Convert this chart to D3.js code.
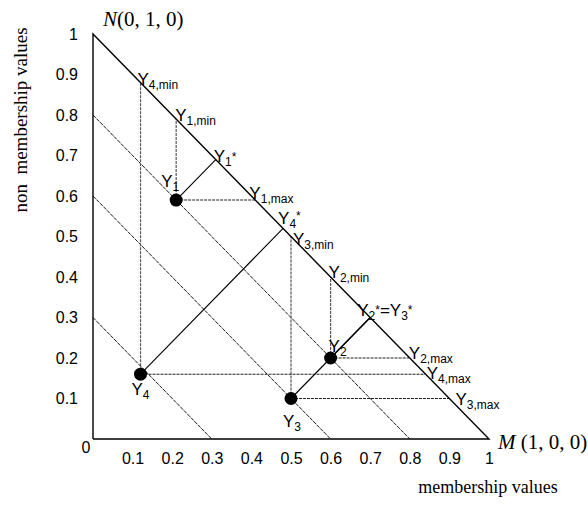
<!DOCTYPE html>
<html>
<head>
    <meta charset="utf-8">
    <title>Intuitionistic fuzzy triangle</title>
    <style>
        body { margin: 0; background: #fff; }
        svg { display: block; }
        .tick text { font-family: "Liberation Sans", Arial, sans-serif; font-size: 16px; fill: #000; }
        .serif { font-family: "Liberation Serif", "Times New Roman", serif; fill: #000; }
        .lbl { font-family: "Liberation Sans", Arial, sans-serif; fill: #000; }
    </style>
</head>
<body>
<div id="chart"></div>
<script src="https://cdn.jsdelivr.net/npm/d3@7/dist/d3.min.js"></script>
<script>
(function (d3) {
    'use strict';

    // alternatives Y1..Y4 as (membership, non membership)
    var names = ['1', '2', '3', '4'];
    var mu = [0.21, 0.6, 0.5, 0.12];
    var nu = [0.59, 0.2, 0.1, 0.16];

    // lines of constant mu + nu
    var sums = [0.3, 0.6, 0.8];

    var xTicks = [0.1, 0.2, 0.3, 0.4, 0.5, 0.6, 0.7, 0.8, 0.9, 1];
    var yTicks = [0.1, 0.2, 0.3, 0.4, 0.5, 0.6, 0.7, 0.8, 0.9, 1];
    var xTickLabels = ['0.1', '0.2', '0.3', '0.4', '0.5', '0.6', '0.7', '0.8', '0.9', '1'];
    var yTickLabels = ['0.1', '0.2', '0.3', '0.4', '0.5', '0.6', '0.7', '0.8', '0.9', '1'];

    var width = 588;
    var height = 505;

    var x = d3.scaleLinear().domain([0, 1]).range([93, 489]);
    var y = d3.scaleLinear().domain([0, 1]).range([439, 34]);

    var svg = d3.select('#chart')
        .append('svg')
        .attr('width', width)
        .attr('height', height);

    var pts = names.map(function (n, i) {
        var m = mu[i], v = nu[i];
        return {
            name: n, mu: m, nu: v,
            min: [m, 1 - m],                       // straight up to the edge
            max: [1 - v, v],                       // straight right to the edge
            star: [(1 + m - v) / 2, (1 - m + v) / 2] // 45 degrees to the edge
        };
    });

    // constant sum lines
    svg.selectAll('.sum')
        .data(sums)
        .enter()
        .append('line')
        .attr('class', 'sum')
        .attr('x1', x(0)).attr('y1', function (d) { return y(d); })
        .attr('x2', function (d) { return x(d); }).attr('y2', y(0))
        .attr('stroke', '#000')
        .attr('stroke-width', 0.9)
        .attr('stroke-dasharray', '4,1');

    // vertical lines to the min points
    svg.selectAll('.vmin')
        .data(pts)
        .enter()
        .append('line')
        .attr('x1', function (d) { return x(d.mu); })
        .attr('y1', function (d) { return y(d.nu); })
        .attr('x2', function (d) { return x(d.min[0]); })
        .attr('y2', function (d) { return y(d.min[1]); })
        .attr('stroke', '#555')
        .attr('stroke-width', 1.2)
        .attr('stroke-dasharray', '3,1');

    // horizontal lines to the max points
    svg.selectAll('.hmax')
        .data(pts)
        .enter()
        .append('line')
        .attr('x1', function (d) { return x(d.mu); })
        .attr('y1', function (d) { return y(d.nu); })
        .attr('x2', function (d) { return x(d.max[0]); })
        .attr('y2', function (d) { return y(d.max[1]); })
        .attr('stroke', '#222')
        .attr('stroke-width', 1.1)
        .attr('stroke-dasharray', '3,1');

    // lines to the star points
    svg.selectAll('.star')
        .data(pts)
        .enter()
        .append('line')
        .attr('x1', function (d) { return x(d.mu); })
        .attr('y1', function (d) { return y(d.nu); })
        .attr('x2', function (d) { return x(d.star[0]); })
        .attr('y2', function (d) { return y(d.star[1]); })
        .attr('stroke', '#000')
        .attr('stroke-width', 1.1);

    // the triangle
    var tri = [[0, 0], [1, 0], [0, 1], [0, 0]];
    svg.append('path')
        .attr('d', d3.line()
            .x(function (d) { return x(d[0]); })
            .y(function (d) { return y(d[1]); })(tri))
        .attr('fill', 'none')
        .attr('stroke', '#000')
        .attr('stroke-width', 1.4);

    svg.selectAll('.pt')
        .data(pts)
        .enter()
        .append('circle')
        .attr('cx', function (d) { return x(d.mu); })
        .attr('cy', function (d) { return y(d.nu); })
        .attr('r', 6.5)
        .attr('fill', '#000');

    // axes, labels only
    var xAxis = svg.append('g')
        .attr('transform', 'translate(0,' + y(0) + ')')
        .call(d3.axisBottom(x).tickValues(xTicks).tickSize(0).tickPadding(14)
            .tickFormat(function (d, i) { return xTickLabels[i]; }));
    xAxis.select('.domain').remove();
    xAxis.attr('font-size', null).attr('font-family', null);

    var yAxis = svg.append('g')
        .attr('transform', 'translate(' + x(0) + ',0)')
        .call(d3.axisLeft(y).tickValues(yTicks).tickSize(0).tickPadding(15)
            .tickFormat(function (d, i) { return yTickLabels[i]; }));
    yAxis.select('.domain').remove();
    yAxis.attr('font-size', null).attr('font-family', null);

    svg.append('text')
        .attr('class', 'lbl')
        .attr('x', 86).attr('y', 453)
        .attr('text-anchor', 'middle')
        .attr('font-size', 16)
        .text('0');

    // point labels: Y with subscript and star
    var layout = {
        p:    { '1': [-15, -13], '2': [-2, -6], '3': [-8, 28], '4': [-9, 21] },
        min:  { '1': [-1, 2], '2': [-2, 1], '3': [2, 8], '4': [-3, 2] },
        max:  { '1': [-6, -1], '2': [-1, 1], '3': [6, 6], '4': [1, 5] },
        star: { '1': [-2, 2], '4': [-5, -4], '2': [-13, -2] }
    };

    function label(px, py, parts) {
        var t = svg.append('text')
            .attr('class', 'lbl')
            .attr('x', px).attr('y', py);
        var prev = 0;
        parts.forEach(function (p) {
            var shift = p.sub ? 4 : (p.sup ? p.sup : 0);
            t.append('tspan')
                .attr('dy', shift - prev)
                .attr('font-size', (p.sub || p.sup) ? 12 : 17)
                .text(p.t);
            prev = shift;
        });
    }

    pts.forEach(function (d) {
        var o = layout.p[d.name];
        label(x(d.mu) + o[0], y(d.nu) + o[1], [{ t: 'Y' }, { t: d.name, sub: true }]);
        o = layout.min[d.name];
        label(x(d.min[0]) + o[0], y(d.min[1]) + o[1], [{ t: 'Y' }, { t: d.name + ',min', sub: true }]);
        o = layout.max[d.name];
        label(x(d.max[0]) + o[0], y(d.max[1]) + o[1], [{ t: 'Y' }, { t: d.name + ',max', sub: true }]);
    });

    var s1 = pts[0], s4 = pts[3], s2 = pts[1];
    label(x(s1.star[0]) + layout.star['1'][0], y(s1.star[1]) + layout.star['1'][1],
        [{ t: 'Y' }, { t: '1', sub: true }, { t: '*', sup: -1 }]);
    label(x(s4.star[0]) + layout.star['4'][0], y(s4.star[1]) + layout.star['4'][1],
        [{ t: 'Y' }, { t: '4', sub: true }, { t: '*', sup: -4 }]);
    label(x(s2.star[0]) + layout.star['2'][0], y(s2.star[1]) + layout.star['2'][1],
        [{ t: 'Y' }, { t: '2', sub: true }, { t: '*', sup: -2 }, { t: '=Y' }, { t: '3', sub: true }, { t: '*', sup: -2 }]);

    // corner and axis titles
    var nLab = svg.append('text')
        .attr('class', 'serif')
        .attr('x', 103).attr('y', 26)
        .attr('font-size', 21);
    nLab.append('tspan').attr('font-style', 'italic').text('N');
    nLab.append('tspan').text('(0, 1, 0)');

    var mLab = svg.append('text')
        .attr('class', 'serif')
        .attr('x', 498).attr('y', 449)
        .attr('font-size', 21);
    mLab.append('tspan').attr('font-style', 'italic').text('M');
    mLab.append('tspan').text(' (1, 0, 0)');

    svg.append('text')
        .attr('class', 'serif')
        .attr('x', 488).attr('y', 493)
        .attr('text-anchor', 'middle')
        .attr('font-size', 18)
        .text('membership values');

    svg.append('text')
        .attr('class', 'serif')
        .attr('transform', 'translate(27,120) rotate(-90)')
        .attr('text-anchor', 'middle')
        .attr('font-size', 19)
        .style('white-space', 'pre')
        .text('non  membership values');

})(window.d3);
</script>
</body>
</html>
